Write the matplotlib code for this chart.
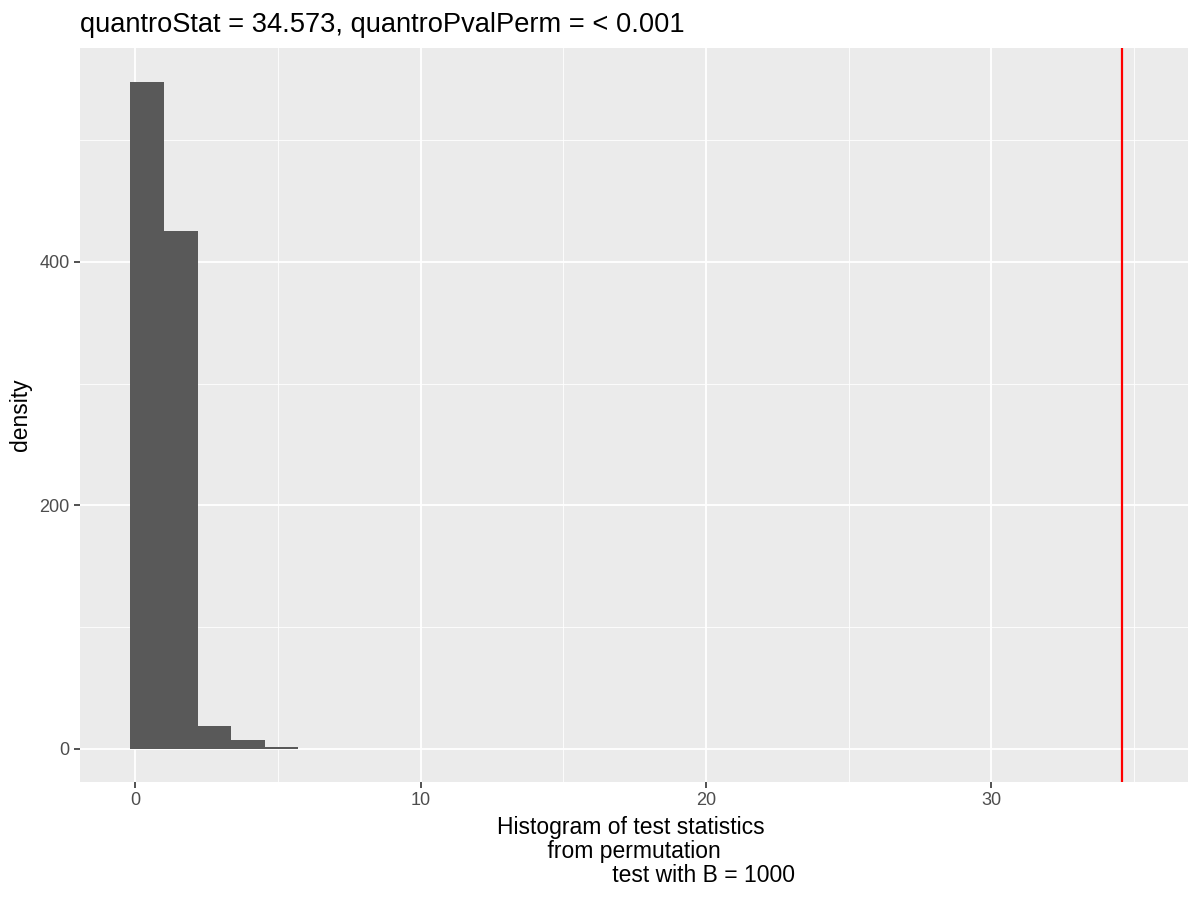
import matplotlib
matplotlib.use("Agg")
import matplotlib.pyplot as plt
from matplotlib.ticker import MultipleLocator

# Data
bin_edges = [-0.18, 0.997, 2.174, 3.351, 4.528, 5.705]
bin_counts = [548, 425, 19, 7, 1]
observed_stat = 34.573
hist_range = [-0.18, 35.13]   # full span of the 30 histogram bins (mostly empty)
x_ticks = [0, 10, 20, 30]
y_ticks = [0, 200, 400]
title_text = "quantroStat = 34.573, quantroPvalPerm = < 0.001"
xlabel_text = ("Histogram of test statistics \n from permutation \n"
               + " " * 22 + "test with B = 1000")
ylabel_text = "density"

plt.rcParams['font.family'] = ['Liberation Sans', 'DejaVu Sans']

fig = plt.figure(figsize=(12, 9), dpi=100)
ax = fig.add_axes([80/1200, 1 - 782/900, (1188 - 80)/1200, (782 - 48.3)/900])
ax.set_facecolor('#EBEBEB')

widths = [bin_edges[i+1] - bin_edges[i] for i in range(len(bin_counts))]
ax.bar(bin_edges[:-1], bin_counts, width=widths, align='edge',
       color='#595959', edgecolor='none', zorder=3)
ax.axvline(observed_stat, color='#FF0000', lw=1.6, zorder=4)

# ggplot-style expansion (5%)
xspan = hist_range[1] - hist_range[0]
ax.set_xlim(hist_range[0] - 0.05*xspan, hist_range[1] + 0.05*xspan)
ymax = max(bin_counts)
ax.set_ylim(-0.05*ymax, 1.05*ymax)

ax.set_xticks(x_ticks)
ax.set_yticks(y_ticks)
ax.xaxis.set_minor_locator(MultipleLocator(5))
ax.yaxis.set_minor_locator(MultipleLocator(100))
ax.grid(which='major', color='white', lw=1.3, zorder=1)
ax.grid(which='minor', color='white', lw=0.6, zorder=1)
ax.set_axisbelow(True)
for s in ax.spines.values():
    s.set_visible(False)
ax.tick_params(which='major', length=4.5, width=1.2, color='#333333',
               labelcolor='#4D4D4D', labelsize=13, pad=3)
ax.tick_params(which='minor', length=0)

ax.set_xlabel(xlabel_text, fontsize=16.5, color='black', labelpad=5,
              multialignment='center', linespacing=1.05)
ax.set_ylabel(ylabel_text, fontsize=16.5, color='black', labelpad=5)
fig.text(80/1200, 1 - 32/900, title_text, fontsize=19.6, color='black',
         ha='left', va='baseline')

fig.savefig("out.png", dpi=100)
